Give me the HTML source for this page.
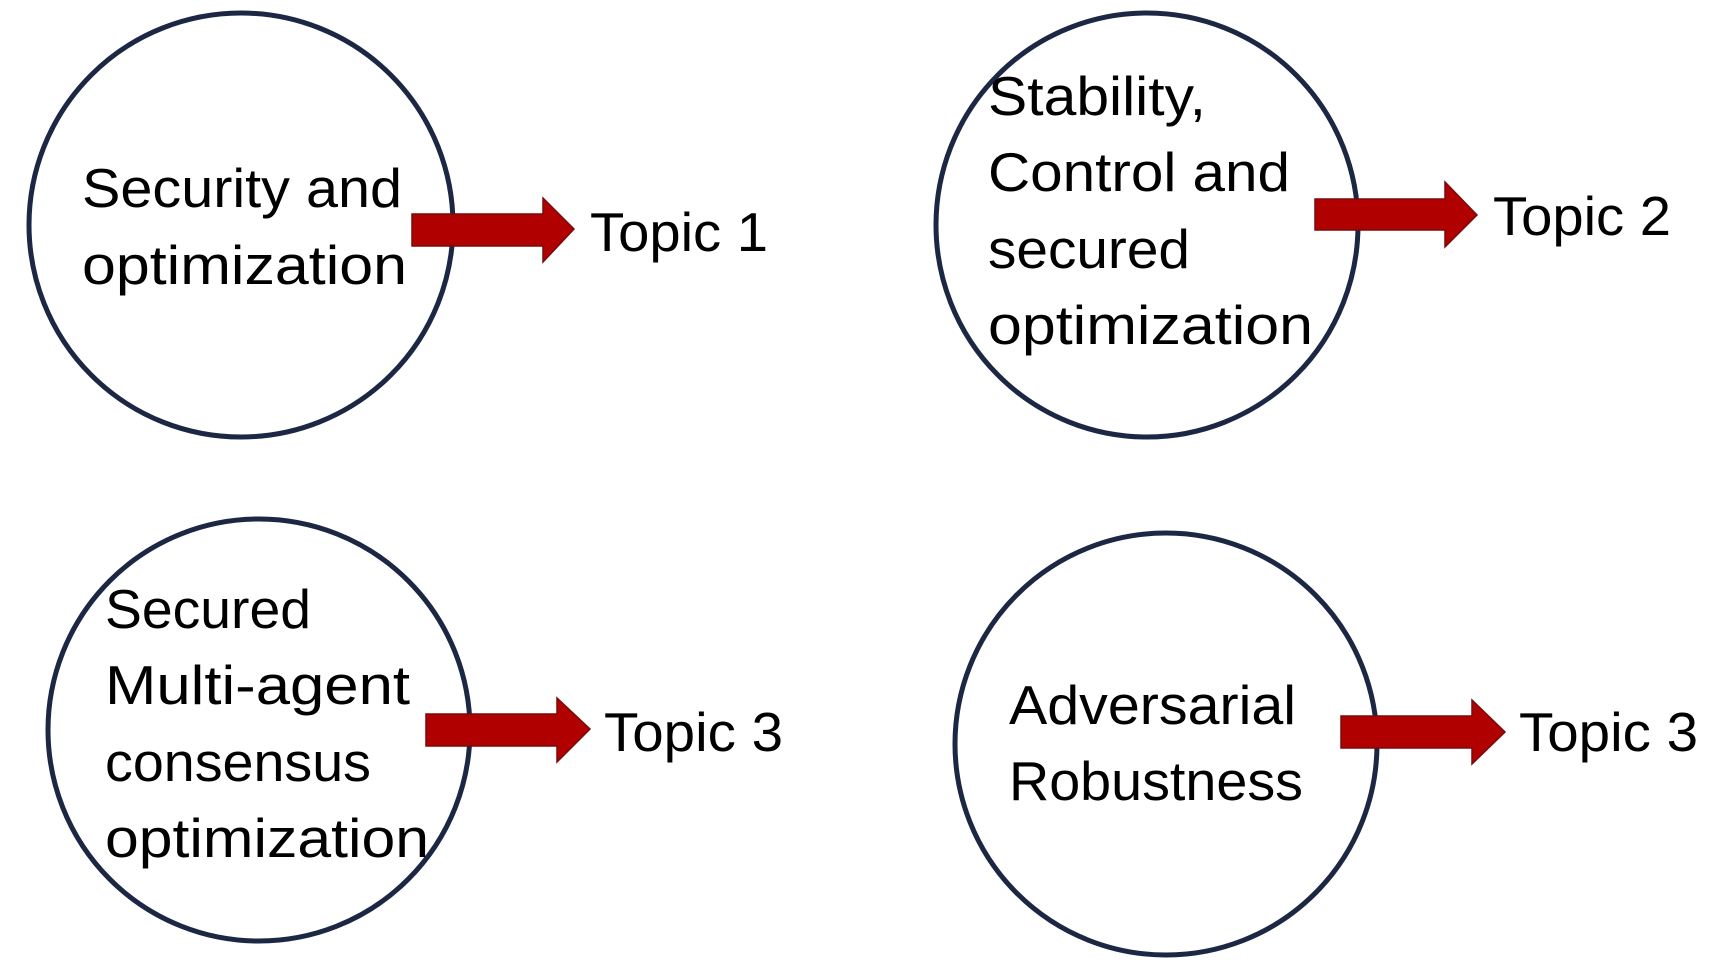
<!DOCTYPE html>
<html><head><meta charset="utf-8"><style>
html,body{margin:0;padding:0;background:#fff;}
svg{display:block;}
text{font-family:"Liberation Sans",sans-serif;font-size:55px;fill:#000;}
</style></head><body>
<svg width="1711" height="970" viewBox="0 0 1711 970" xmlns="http://www.w3.org/2000/svg">
<g fill="none" stroke="#1c2744" stroke-width="5">
<ellipse cx="241" cy="225" rx="212" ry="212"/>
<ellipse cx="1147" cy="225" rx="211" ry="212"/>
<ellipse cx="259" cy="730" rx="211" ry="211"/>
<ellipse cx="1166" cy="744" rx="211" ry="211"/>
</g>
<g fill="#b00000" stroke="#7a0a0a" stroke-width="1.5">
<polygon points="412,214 543,214 543,198 574,229 543,262 543,246 412,246"/>
<polygon points="1315,199 1445,199 1445,182 1477,215 1445,247 1445,230 1315,230"/>
<polygon points="426,714 557,714 557,698 590,729 557,762 557,746 426,746"/>
<polygon points="1341,716 1472,716 1472,700 1505,732 1472,764 1472,748 1341,748"/>
</g>
<text x="82" y="207" textLength="320" lengthAdjust="spacingAndGlyphs">Security and</text>
<text x="82" y="284" textLength="325" lengthAdjust="spacingAndGlyphs">optimization</text>
<text x="590" y="251" textLength="178" lengthAdjust="spacingAndGlyphs">Topic 1</text>
<text x="988" y="115" textLength="218" lengthAdjust="spacingAndGlyphs">Stability,</text>
<text x="988" y="191" textLength="302" lengthAdjust="spacingAndGlyphs">Control and</text>
<text x="988" y="268" textLength="202" lengthAdjust="spacingAndGlyphs">secured</text>
<text x="988" y="344" textLength="325" lengthAdjust="spacingAndGlyphs">optimization</text>
<text x="1493" y="235" textLength="178" lengthAdjust="spacingAndGlyphs">Topic 2</text>
<text x="105" y="628" textLength="206" lengthAdjust="spacingAndGlyphs">Secured</text>
<text x="105" y="704" textLength="305" lengthAdjust="spacingAndGlyphs">Multi-agent</text>
<text x="105" y="781" textLength="266" lengthAdjust="spacingAndGlyphs">consensus</text>
<text x="105" y="857" textLength="324" lengthAdjust="spacingAndGlyphs">optimization</text>
<text x="604" y="751" textLength="179" lengthAdjust="spacingAndGlyphs">Topic 3</text>
<text x="1009" y="724" textLength="287" lengthAdjust="spacingAndGlyphs">Adversarial</text>
<text x="1009" y="800" textLength="294" lengthAdjust="spacingAndGlyphs">Robustness</text>
<text x="1519" y="751" textLength="179" lengthAdjust="spacingAndGlyphs">Topic 3</text>
</svg>
</body></html>
